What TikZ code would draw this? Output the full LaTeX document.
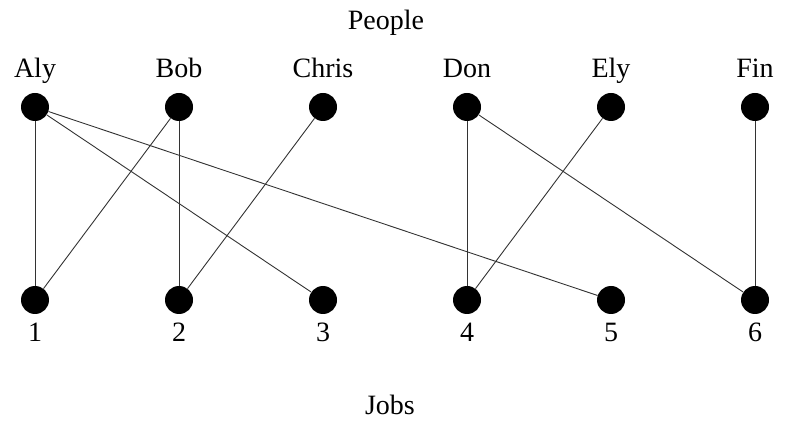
\documentclass[tikz,border=0pt]{standalone}
\usepackage{fontspec}
\setmainfont{Liberation Serif}
\begin{document}
\begin{tikzpicture}[x=1pt,y=1pt,
  vertex/.style={circle,fill=black,inner sep=0pt,minimum size=28pt},
  lbl/.style={font=\fontsize{28}{32}\selectfont,inner sep=0pt,anchor=base},
  edge/.style={line width=0.9pt,draw=black!80}]
\useasboundingbox (0,0) rectangle (787,423);

% people (top row) and jobs (bottom row)
\foreach \n/\x in {aly/35,bob/179,chris/323,don/467,ely/611,fin/755}
  \node[vertex] (\n) at (\x,316) {};
\foreach \n/\x in {1/35,2/179,3/323,4/467,5/611,6/755}
  \node[vertex] (j\n) at (\x,123) {};

% names above the people
\node[lbl] (laly)   at (35,345)  {Aly};
\node[lbl] (lbob)   at (179,345) {Bob};
\node[lbl] (lchris) at (323,345) {Chris};
\node[lbl] (ldon)   at (467,345) {Don};
\node[lbl] (lely)   at (611,345) {Ely};
\node[lbl] (lfin)   at (755,345) {Fin};

% numbers below the jobs
\foreach \n/\x in {1/35,2/179,3/323,4/467,5/611,6/755}
  \node[lbl] (lj\n) at (\x,81) {\n};

% set titles
\node[lbl] (people) at (386,393.5) {People};
\node[lbl] (jobs)   at (390,9)  {Jobs};

% who can do which job
\draw[edge] (aly) -- (j1);
\draw[edge] (aly) -- (j3);
\draw[edge] (aly) -- (j5);
\draw[edge] (bob) -- (j1);
\draw[edge] (bob) -- (j2);
\draw[edge] (chris) -- (j2);
\draw[edge] (don) -- (j4);
\draw[edge] (don) -- (j6);
\draw[edge] (ely) -- (j4);
\draw[edge] (fin) -- (j6);
\end{tikzpicture}
\end{document}
